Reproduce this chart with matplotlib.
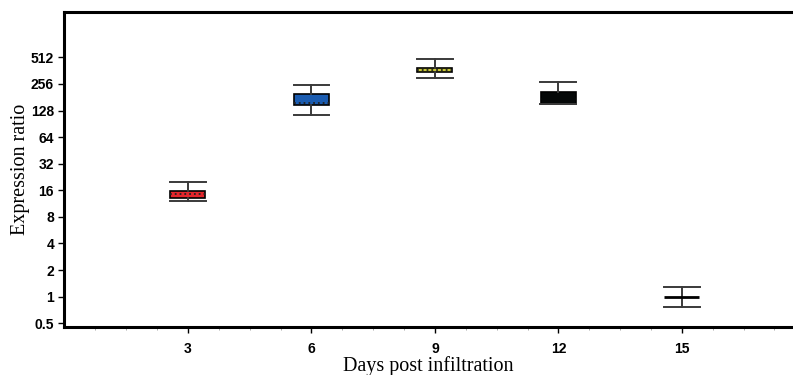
import numpy as np
import matplotlib.pyplot as plt
from matplotlib.ticker import LogLocator, FixedLocator, NullFormatter

# values (expression ratio, log2 axis)
days = [3, 6, 9, 12, 15]
whislo = [12.0, 114, 299, 150, 0.76]
q1 = [13.2, 148, 349, 150, 1.0]
med = [14.4, 155, 369, 175, 1.0]
q3 = [15.7, 195, 388, 205, 1.0]
whishi = [19.7, 249, 485, 271, 1.30]
colors = ['#e4262c', '#1b5cb0', '#c9c836', '#050808', 'white']
ytick_vals = [0.5, 1, 2, 4, 8, 16, 32, 64, 128, 256, 512]

fig = plt.figure(figsize=(7.93, 3.75), dpi=100)
ax = fig.add_axes([0.0813, 0.129, 0.9187, 0.838])

stats = []
for i in range(len(days)):
    stats.append({'whislo': whislo[i], 'q1': q1[i], 'med': med[i],
                  'q3': q3[i], 'whishi': whishi[i], 'fliers': []})

bp = ax.bxp(stats, positions=days, widths=0.85, capwidths=0.87,
            patch_artist=True, showfliers=False,
            boxprops=dict(edgecolor='black', linewidth=1.2),
            whiskerprops=dict(color='#3a3a3a', linewidth=1.4),
            capprops=dict(color='#3a3a3a', linewidth=1.4),
            medianprops=dict(color='#222222', linewidth=1.3, linestyle=':'))
for patch, c in zip(bp['boxes'], colors):
    patch.set_facecolor(c)
# black box: median not visible
bp['medians'][3].set_color('#050808')
# last box has no spread: solid median
bp['medians'][-1].set_linestyle('-')
bp['medians'][-1].set_linewidth(2.0)
bp['medians'][-1].set_color('black')
bp['boxes'][-1].set_linewidth(0)

ax.set_yscale('log', base=2)
ax.set_ylim(0.458, 1652)
ax.set_yticks(ytick_vals)
ax.set_yticklabels([('%g' % v) for v in ytick_vals])
ax.yaxis.set_minor_locator(LogLocator(base=2, subs=(1.25, 1.5, 1.75)))
ax.yaxis.set_minor_formatter(NullFormatter())

ax.set_xlim(0, 17.7)
ax.set_xticks(days)
ax.set_xticklabels([str(d) for d in days])
ax.xaxis.set_minor_locator(FixedLocator(np.arange(0.75, 17.7, 0.75)))

for s in ['left', 'bottom', 'top']:
    ax.spines[s].set_linewidth(2.2)
ax.spines['right'].set_visible(False)

ax.tick_params(which='major', direction='out', length=4, width=1.0,
               labelsize=10)
ax.tick_params(which='minor', direction='out', length=2.5, width=0.6,
               color='#999999')
for lab in ax.get_xticklabels() + ax.get_yticklabels():
    lab.set_fontfamily('Liberation Sans')
    lab.set_fontweight('bold')
ax.tick_params(axis='x', pad=7)

ax.set_xlabel('Days post infiltration', fontfamily='Liberation Serif',
              fontsize=14.5, labelpad=0)
ax.set_ylabel('Expression ratio', fontfamily='Liberation Serif',
              fontsize=14.5, labelpad=1)

fig.savefig('out.png', dpi=100)
